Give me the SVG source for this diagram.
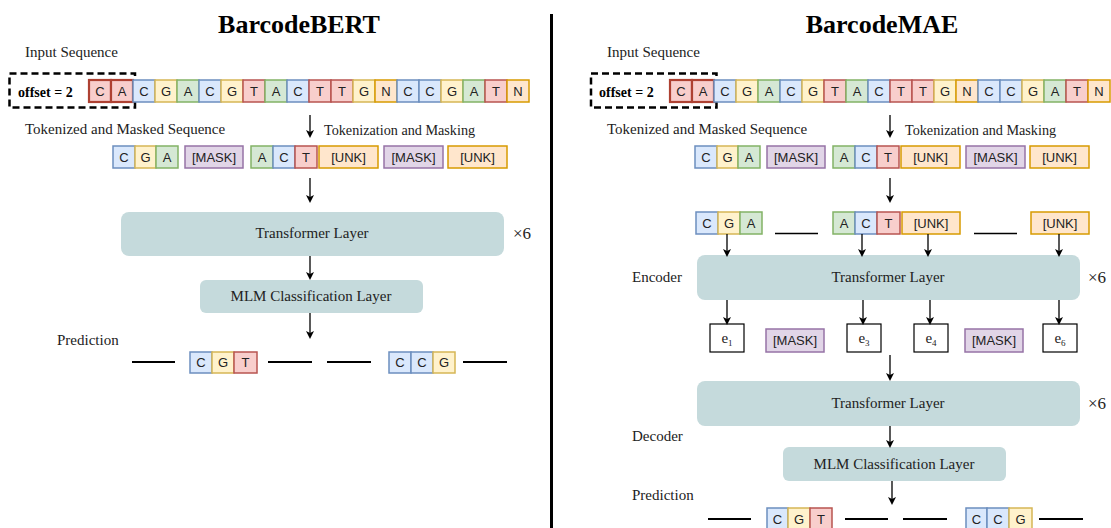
<svg xmlns="http://www.w3.org/2000/svg" width="1111" height="528" viewBox="0 0 1111 528">
<style>
.b{fill:#dae8fc;stroke:#6c8ebf;stroke-width:1.5}
.y{fill:#fff2cc;stroke:#d6b656;stroke-width:1.5}
.g{fill:#d5e8d4;stroke:#82b366;stroke-width:1.5}
.r{fill:#f8cecc;stroke:#b85450;stroke-width:1.5}
.rr{fill:#f8cecc;stroke:#ae4132;stroke-width:2.2}
.o{fill:#ffe6cc;stroke:#d79b00;stroke-width:1.5}
.p{fill:#e1d5e7;stroke:#9673a6;stroke-width:1.5}
.w{fill:#fff;stroke:#000;stroke-width:1.2}
.t{font-family:"Liberation Sans",Arial,sans-serif;font-size:13px;text-anchor:middle;fill:#222}
.s{font-family:"Liberation Serif","Times New Roman",serif;font-size:15px;fill:#222}
.m{text-anchor:middle}
.ti{font-family:"Liberation Serif","Times New Roman",serif;font-size:26px;font-weight:bold;text-anchor:middle;fill:#000}
.off{font-family:"Liberation Serif","Times New Roman",serif;font-size:14px;font-weight:bold;fill:#000}
.layer{fill:#c5dadc}
.dash{fill:none;stroke:#000;stroke-width:2.5;stroke-dasharray:7 4}
.ln{stroke:#000;stroke-width:2.2}
.ar{stroke:#000;stroke-width:1.3;fill:none;marker-end:url(#ah)}
</style>
<defs>
<marker id="ah" markerWidth="8" markerHeight="8" refX="6" refY="4" orient="auto" markerUnits="userSpaceOnUse">
<path d="M0,0 L8,4 L0,8 L2,4 Z" fill="#000"/>
</marker>
</defs>
<rect width="1111" height="528" fill="#fff"/>
<line x1="551.5" y1="14" x2="551.5" y2="528" stroke="#000" stroke-width="3"/>

<text class="ti" x="299" y="33">BarcodeBERT</text>
<text class="ti" x="882" y="33">BarcodeMAE</text>

<g id="labels-left">
<text class="s" x="25" y="57">Input Sequence</text>
<text class="s" x="25" y="134">Tokenized and Masked Sequence</text>
<text class="s" x="324" y="135" style="font-size:14.2px">Tokenization and Masking</text>
<text class="s" x="57" y="345">Prediction</text>
<text class="s" x="513" y="239" style="font-size:17px">×6</text>
</g>
<g id="labels-right">
<text class="s" x="607" y="57">Input Sequence</text>
<text class="s" x="607" y="134">Tokenized and Masked Sequence</text>
<text class="s" x="905" y="135" style="font-size:14.2px">Tokenization and Masking</text>
<text class="s" x="632" y="282">Encoder</text>
<text class="s" x="632" y="441">Decoder</text>
<text class="s" x="632" y="500">Prediction</text>
<text class="s" x="1088" y="283" style="font-size:17px">×6</text>
<text class="s" x="1088" y="409" style="font-size:17px">×6</text>
</g>

<g id="input-left">
<rect class="dash" x="9.5" y="73.5" width="125.5" height="34"/>
<text class="off" x="18" y="97">offset = 2</text>
<rect class="rr" x="89" y="80" width="22" height="22"/><text class="t" x="100" y="96">C</text>
<rect class="rr" x="111" y="80" width="22" height="22"/><text class="t" x="122" y="96">A</text>
<rect class="b" x="133" y="80" width="22" height="22"/><text class="t" x="144" y="96">C</text>
<rect class="y" x="155" y="80" width="22" height="22"/><text class="t" x="166" y="96">G</text>
<rect class="g" x="177" y="80" width="22" height="22"/><text class="t" x="188" y="96">A</text>
<rect class="b" x="199" y="80" width="22" height="22"/><text class="t" x="210" y="96">C</text>
<rect class="y" x="221" y="80" width="22" height="22"/><text class="t" x="232" y="96">G</text>
<rect class="r" x="243" y="80" width="22" height="22"/><text class="t" x="254" y="96">T</text>
<rect class="g" x="265" y="80" width="22" height="22"/><text class="t" x="276" y="96">A</text>
<rect class="b" x="287" y="80" width="22" height="22"/><text class="t" x="298" y="96">C</text>
<rect class="r" x="309" y="80" width="22" height="22"/><text class="t" x="320" y="96">T</text>
<rect class="r" x="331" y="80" width="22" height="22"/><text class="t" x="342" y="96">T</text>
<rect class="y" x="353" y="80" width="22" height="22"/><text class="t" x="364" y="96">G</text>
<rect class="o" x="375" y="80" width="22" height="22"/><text class="t" x="386" y="96">N</text>
<rect class="b" x="397" y="80" width="22" height="22"/><text class="t" x="408" y="96">C</text>
<rect class="b" x="419" y="80" width="22" height="22"/><text class="t" x="430" y="96">C</text>
<rect class="y" x="441" y="80" width="22" height="22"/><text class="t" x="452" y="96">G</text>
<rect class="g" x="463" y="80" width="22" height="22"/><text class="t" x="474" y="96">A</text>
<rect class="r" x="485" y="80" width="22" height="22"/><text class="t" x="496" y="96">T</text>
<rect class="o" x="507" y="80" width="22" height="22"/><text class="t" x="518" y="96">N</text>
</g>

<g id="tokens-left">
<rect class="b" x="113" y="146" width="22" height="22"/><text class="t" x="124" y="162">C</text>
<rect class="y" x="135" y="146" width="21" height="22"/><text class="t" x="145.5" y="162">G</text>
<rect class="g" x="156" y="146" width="22" height="22"/><text class="t" x="167" y="162">A</text>
<rect class="p" x="185" y="146" width="58" height="22"/><text class="t" x="214" y="162">[MASK]</text>
<rect class="g" x="251" y="146" width="22" height="22"/><text class="t" x="262" y="162">A</text>
<rect class="b" x="273" y="146" width="22" height="22"/><text class="t" x="284" y="162">C</text>
<rect class="r" x="295" y="146" width="22" height="22"/><text class="t" x="306" y="162">T</text>
<rect class="o" x="319" y="146" width="59" height="22"/><text class="t" x="348.5" y="162">[UNK]</text>
<rect class="p" x="384" y="146" width="59" height="22"/><text class="t" x="413.5" y="162">[MASK]</text>
<rect class="o" x="448" y="146" width="59" height="22"/><text class="t" x="477.5" y="162">[UNK]</text>
</g>

<g id="transformer-left">
<rect class="layer" x="121" y="212" width="383" height="44" rx="8"/>
<text class="s m" x="312" y="238">Transformer Layer</text>
</g>
<g id="mlm-left">
<rect class="layer" x="200" y="280" width="223" height="33" rx="6"/>
<text class="s m" x="311" y="301">MLM Classification Layer</text>
</g>

<g id="prediction-left">
<line class="ln" x1="132" y1="362" x2="175" y2="362"/>
<rect class="b" x="190" y="352" width="22" height="21"/><text class="t" x="201" y="367">C</text>
<rect class="y" x="212" y="352" width="22" height="21"/><text class="t" x="223" y="367">G</text>
<rect class="r" x="234" y="352" width="23" height="21"/><text class="t" x="245.5" y="367">T</text>
<line class="ln" x1="268" y1="362" x2="312" y2="362"/>
<line class="ln" x1="327" y1="362" x2="371" y2="362"/>
<rect class="b" x="389" y="352" width="22" height="21"/><text class="t" x="400" y="367">C</text>
<rect class="b" x="411" y="352" width="22" height="21"/><text class="t" x="422" y="367">C</text>
<rect class="y" x="433" y="352" width="22" height="21"/><text class="t" x="444" y="367">G</text>
<line class="ln" x1="463" y1="362" x2="507" y2="362"/>
</g>

<g id="input-right">
<rect class="dash" x="591" y="73.5" width="125.5" height="34"/>
<text class="off" x="599" y="97">offset = 2</text>
<rect class="rr" x="670" y="80" width="22" height="22"/><text class="t" x="681" y="96">C</text>
<rect class="rr" x="692" y="80" width="22" height="22"/><text class="t" x="703" y="96">A</text>
<rect class="b" x="714" y="80" width="22" height="22"/><text class="t" x="725" y="96">C</text>
<rect class="y" x="736" y="80" width="22" height="22"/><text class="t" x="747" y="96">G</text>
<rect class="g" x="758" y="80" width="22" height="22"/><text class="t" x="769" y="96">A</text>
<rect class="b" x="780" y="80" width="22" height="22"/><text class="t" x="791" y="96">C</text>
<rect class="y" x="802" y="80" width="22" height="22"/><text class="t" x="813" y="96">G</text>
<rect class="r" x="824" y="80" width="22" height="22"/><text class="t" x="835" y="96">T</text>
<rect class="g" x="846" y="80" width="22" height="22"/><text class="t" x="857" y="96">A</text>
<rect class="b" x="868" y="80" width="22" height="22"/><text class="t" x="879" y="96">C</text>
<rect class="r" x="890" y="80" width="22" height="22"/><text class="t" x="901" y="96">T</text>
<rect class="r" x="912" y="80" width="22" height="22"/><text class="t" x="923" y="96">T</text>
<rect class="y" x="934" y="80" width="22" height="22"/><text class="t" x="945" y="96">G</text>
<rect class="o" x="956" y="80" width="22" height="22"/><text class="t" x="967" y="96">N</text>
<rect class="b" x="978" y="80" width="22" height="22"/><text class="t" x="989" y="96">C</text>
<rect class="b" x="1000" y="80" width="22" height="22"/><text class="t" x="1011" y="96">C</text>
<rect class="y" x="1022" y="80" width="22" height="22"/><text class="t" x="1033" y="96">G</text>
<rect class="g" x="1044" y="80" width="22" height="22"/><text class="t" x="1055" y="96">A</text>
<rect class="r" x="1066" y="80" width="22" height="22"/><text class="t" x="1077" y="96">T</text>
<rect class="o" x="1088" y="80" width="22" height="22"/><text class="t" x="1099" y="96">N</text>
</g>

<g id="tokens-right">
<rect class="b" x="695" y="146" width="22" height="22"/><text class="t" x="706" y="162">C</text>
<rect class="y" x="717" y="146" width="21" height="22"/><text class="t" x="727.5" y="162">G</text>
<rect class="g" x="738" y="146" width="22" height="22"/><text class="t" x="749" y="162">A</text>
<rect class="p" x="767" y="146" width="58" height="22"/><text class="t" x="796" y="162">[MASK]</text>
<rect class="g" x="833" y="146" width="22" height="22"/><text class="t" x="844" y="162">A</text>
<rect class="b" x="855" y="146" width="22" height="22"/><text class="t" x="866" y="162">C</text>
<rect class="r" x="877" y="146" width="22" height="22"/><text class="t" x="888" y="162">T</text>
<rect class="o" x="901" y="146" width="59" height="22"/><text class="t" x="930.5" y="162">[UNK]</text>
<rect class="p" x="966" y="146" width="59" height="22"/><text class="t" x="995.5" y="162">[MASK]</text>
<rect class="o" x="1030" y="146" width="59" height="22"/><text class="t" x="1059.5" y="162">[UNK]</text>
</g>

<g id="visible-tokens-right">
<rect class="b" x="696" y="212" width="22" height="22"/><text class="t" x="707" y="228">C</text>
<rect class="y" x="718" y="212" width="22" height="22"/><text class="t" x="729" y="228">G</text>
<rect class="g" x="740" y="212" width="22" height="22"/><text class="t" x="751" y="228">A</text>
<line x1="775" y1="233.5" x2="818" y2="233.5" stroke="#000" stroke-width="1.5"/>
<rect class="g" x="833" y="212" width="22" height="22"/><text class="t" x="844" y="228">A</text>
<rect class="b" x="855" y="212" width="22" height="22"/><text class="t" x="866" y="228">C</text>
<rect class="r" x="877" y="212" width="23" height="22"/><text class="t" x="888.5" y="228">T</text>
<rect class="o" x="902" y="212" width="58" height="22"/><text class="t" x="931" y="228">[UNK]</text>
<line x1="974" y1="233.5" x2="1017" y2="233.5" stroke="#000" stroke-width="1.5"/>
<rect class="o" x="1031" y="212" width="58" height="22"/><text class="t" x="1060" y="228">[UNK]</text>
</g>

<g id="encoder">
<rect class="layer" x="697" y="255" width="383" height="45" rx="8"/>
<text class="s m" x="888" y="282">Transformer Layer</text>
</g>

<g id="embeddings">
<rect class="w" x="710" y="324" width="34" height="28"/><text class="s m" x="727" y="343">e<tspan font-size="9" dy="3">1</tspan></text>
<rect class="p" x="766" y="329" width="58" height="23"/><text class="t" x="795" y="345">[MASK]</text>
<rect class="w" x="847" y="324" width="34" height="28"/><text class="s m" x="864" y="343">e<tspan font-size="9" dy="3">3</tspan></text>
<rect class="w" x="914" y="324" width="34" height="28"/><text class="s m" x="931" y="343">e<tspan font-size="9" dy="3">4</tspan></text>
<rect class="p" x="965" y="329" width="58" height="23"/><text class="t" x="994" y="345">[MASK]</text>
<rect class="w" x="1043" y="324" width="34" height="28"/><text class="s m" x="1060" y="343">e<tspan font-size="9" dy="3">6</tspan></text>
</g>

<g id="decoder">
<rect class="layer" x="697" y="381" width="383" height="45" rx="8"/>
<text class="s m" x="888" y="408">Transformer Layer</text>
</g>
<g id="mlm-right">
<rect class="layer" x="783" y="447" width="223" height="34" rx="6"/>
<text class="s m" x="894" y="469">MLM Classification Layer</text>
</g>

<g id="prediction-right">
<line class="ln" x1="708" y1="519" x2="751" y2="519"/>
<rect class="b" x="767" y="508" width="21" height="22"/><text class="t" x="777.5" y="524">C</text>
<rect class="y" x="788" y="508" width="22" height="22"/><text class="t" x="799" y="524">G</text>
<rect class="r" x="810" y="508" width="22" height="22"/><text class="t" x="821" y="524">T</text>
<line class="ln" x1="845" y1="519" x2="888" y2="519"/>
<line class="ln" x1="903" y1="519" x2="947" y2="519"/>
<rect class="b" x="966" y="508" width="21" height="22"/><text class="t" x="976.5" y="524">C</text>
<rect class="b" x="987" y="508" width="22" height="22"/><text class="t" x="998" y="524">C</text>
<rect class="y" x="1009" y="508" width="23" height="22"/><text class="t" x="1020.5" y="524">G</text>
<line class="ln" x1="1039" y1="519" x2="1083" y2="519"/>
</g>

<g id="connectors">
<line class="ar" x1="310" y1="115" x2="310" y2="136"/>
<line class="ar" x1="310" y1="178" x2="310" y2="201"/>
<line class="ar" x1="310" y1="256" x2="310" y2="278"/>
<line class="ar" x1="310" y1="313" x2="310" y2="337"/>
<line class="ar" x1="890" y1="115" x2="890" y2="136"/>
<line class="ar" x1="890" y1="178" x2="890" y2="201"/>
<line class="ar" x1="727" y1="234" x2="727" y2="255"/>
<line class="ar" x1="862" y1="234" x2="862" y2="255"/>
<line class="ar" x1="928" y1="234" x2="928" y2="255"/>
<line class="ar" x1="1059" y1="234" x2="1059" y2="255"/>
<line class="ar" x1="727" y1="300" x2="727" y2="323"/>
<line class="ar" x1="863" y1="300" x2="863" y2="323"/>
<line class="ar" x1="930" y1="300" x2="930" y2="323"/>
<line class="ar" x1="1059" y1="300" x2="1059" y2="323"/>
<line class="ar" x1="890" y1="355" x2="890" y2="379"/>
<line class="ar" x1="890" y1="426" x2="890" y2="446"/>
<line class="ar" x1="892" y1="481" x2="892" y2="503"/>
</g>
</svg>
